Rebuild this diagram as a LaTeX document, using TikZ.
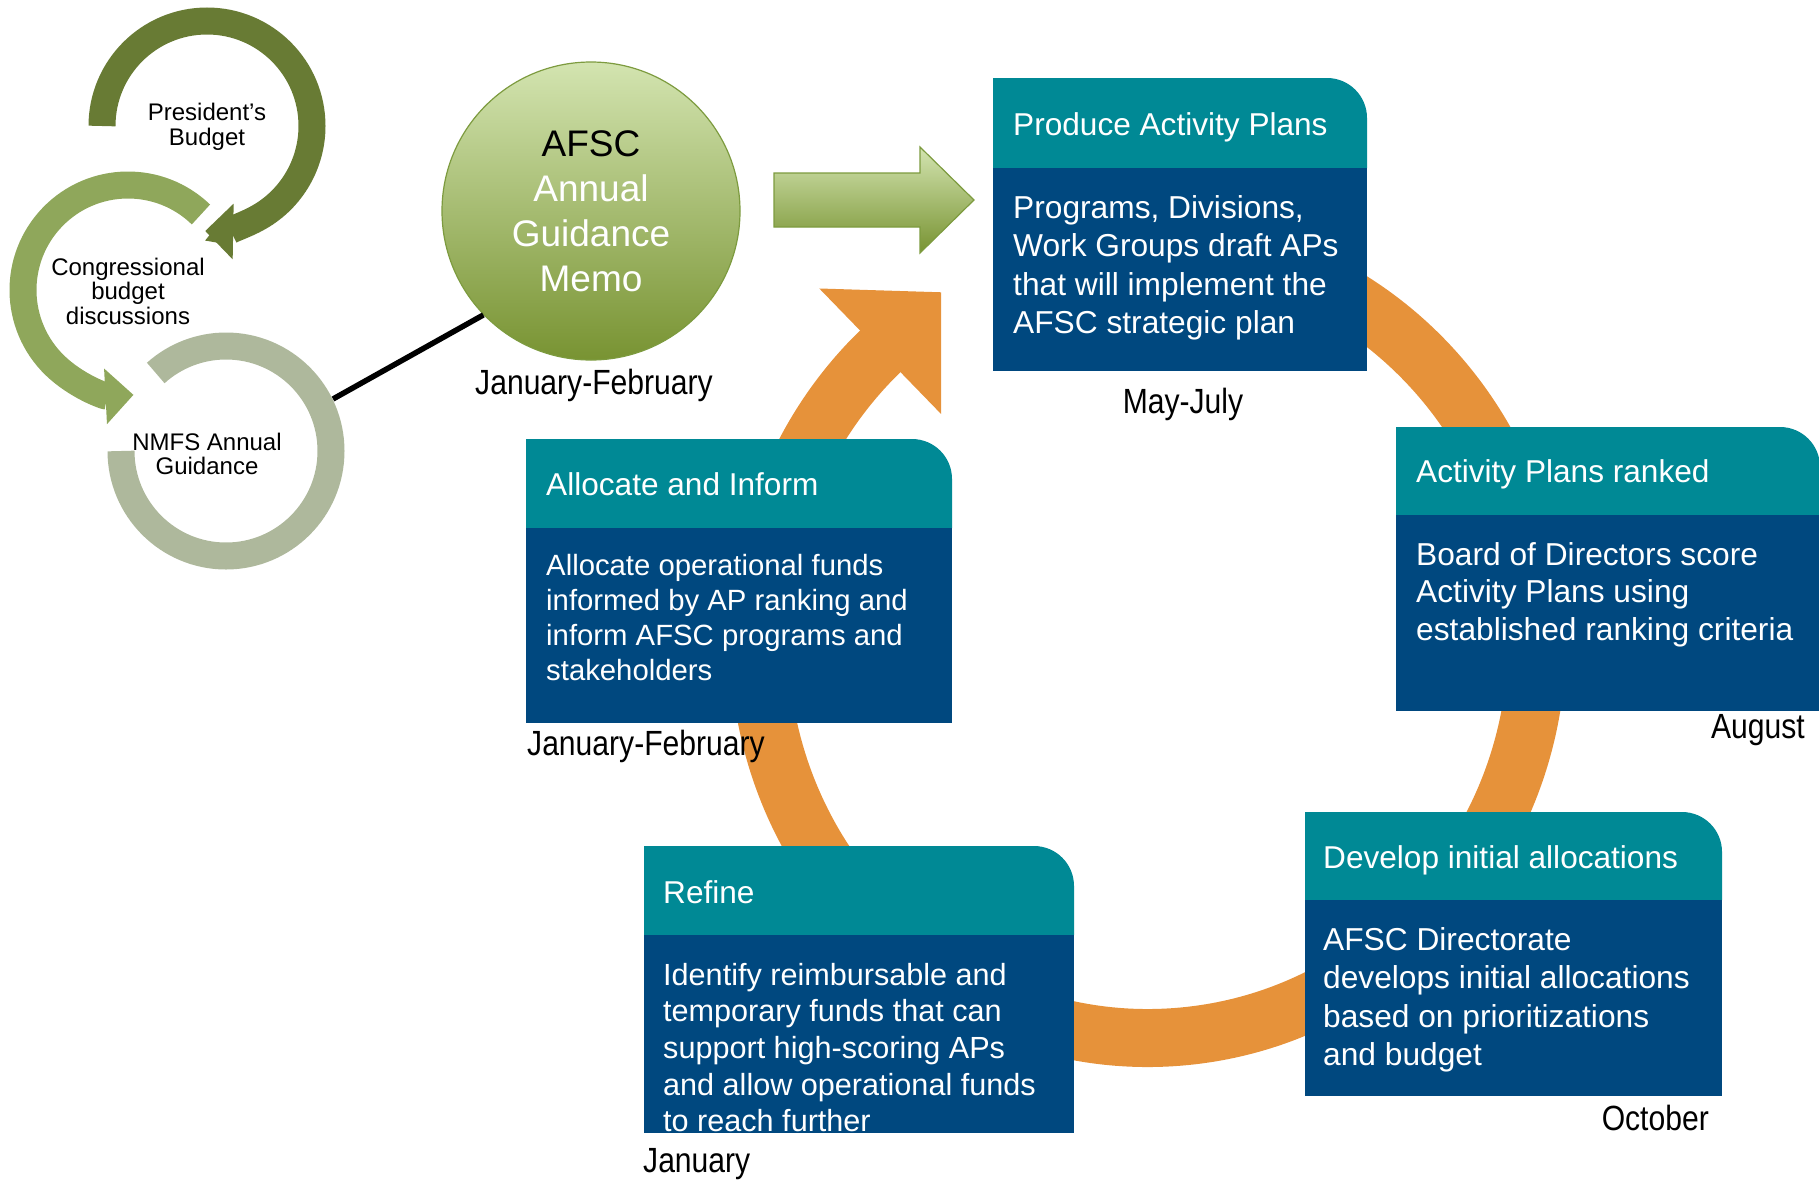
\documentclass[tikz,border=0pt]{standalone}
\usepackage{fontspec}
\setmainfont{Liberation Sans}
\newfontfamily\narrowfont[FakeStretch=0.86]{Liberation Sans}
\usetikzlibrary{arrows.meta}

\definecolor{afscteal}{HTML}{008995}
\definecolor{afscnavy}{HTML}{00487F}
\definecolor{cycleorange}{HTML}{E6923A}
\definecolor{presgreen}{HTML}{687B34}
\definecolor{congreen}{HTML}{8FA75B}
\definecolor{nmfsgreen}{HTML}{AEB89C}
\definecolor{memotop}{HTML}{D3E4B0}
\definecolor{memobot}{HTML}{789332}
\definecolor{memoedge}{HTML}{7D9B3F}

\tikzset{
  hdr/.style={fill=afscteal},
  bdy/.style={fill=afscnavy},
  hdrtxt/.style={anchor=base west, inner sep=0pt, text=white,
    font=\fontsize{31.6}{38}\selectfont},
  bdytxt/.style={anchor=north west, inner sep=0pt, text=white, align=left,
    font=\fontsize{31.7}{38.3}\selectfont},
  month/.style={inner sep=0pt, font=\narrowfont\fontsize{35}{40}\selectfont},
  ring/.style={line width=27pt},
  ringtxt/.style={align=center, inner sep=0pt, font=\fontsize{24}{24.5}\selectfont}
}

\begin{document}
\begin{tikzpicture}[x=1pt,y=-1pt]
\useasboundingbox (0,0) rectangle (1819,1181);

% orange cycle
\draw[line width=58pt, draw=cycleorange, -{Triangle[width=170pt,length=85pt]}]
  (1148,640) ++(-95:389 and 398) arc[start angle=-95, end angle=226.5, x radius=389, y radius=398]
  -- ++(61,-59.2);

% Produce Activity Plans
\fill[hdr] (993,168) -- (993,78) -- (1327,78) arc[start angle=-90, end angle=0, radius=40] -- (1367,168) -- cycle;
\fill[bdy] (993,168) rectangle (1367,371);
\node[hdrtxt] (producehead) at (1013,135) {Produce Activity Plans};
\node[bdytxt] (producebody) at (1013,195.4) {Programs, Divisions,\\Work Groups draft APs\\that will implement the\\AFSC strategic plan};

% Activity Plans ranked
\fill[hdr] (1396,515) -- (1396,427) -- (1780,427) arc[start angle=-90, end angle=0, radius=40] -- (1820,515) -- cycle;
\fill[bdy] (1396,515) rectangle (1820,711);
\node[hdrtxt] (rankedhead) at (1416,482) {Activity Plans ranked};
\node[bdytxt, font=\fontsize{31.7}{37.5}\selectfont] (rankedbody) at (1416,542) {Board of Directors score\\Activity Plans using\\established ranking criteria};

% Develop initial allocations
\fill[hdr] (1305,900) -- (1305,812) -- (1682,812) arc[start angle=-90, end angle=0, radius=40] -- (1722,900) -- cycle;
\fill[bdy] (1305,900) rectangle (1722,1096);
\node[hdrtxt] (develophead) at (1323,868) {Develop initial allocations};
\node[bdytxt] (developbody) at (1323,927.3) {AFSC Directorate\\develops initial allocations\\based on prioritizations\\and budget};

% Refine
\fill[hdr] (644,935) -- (644,846) -- (1034,846) arc[start angle=-90, end angle=0, radius=40] -- (1074,935) -- cycle;
\fill[bdy] (644,935) rectangle (1074,1133);
\node[hdrtxt] (refinehead) at (663,903) {Refine};
\node[bdytxt, font=\fontsize{30.6}{36.7}\selectfont] (refinebody) at (663,962.7) {Identify reimbursable and\\temporary funds that can\\support high-scoring APs\\and allow operational funds\\to reach further};

% Allocate and Inform
\fill[hdr] (526,528) -- (526,439) -- (912,439) arc[start angle=-90, end angle=0, radius=40] -- (952,528) -- cycle;
\fill[bdy] (526,528) rectangle (952,723);
\node[hdrtxt] (allochead) at (546,495) {Allocate and Inform};
\node[bdytxt, font=\fontsize{29.3}{35}\selectfont] (allocbody) at (546,553.7) {Allocate operational funds\\informed by AP ranking and\\inform AFSC programs and\\stakeholders};

% months
\node[month, anchor=base] (memomonth) at (594,394) {January-February};
\node[month, anchor=base] (producemonth) at (1183,413) {May-July};
\node[month, anchor=base east] (rankedmonth) at (1805,738) {August};
\node[month, anchor=base east] (developmonth) at (1709,1130) {October};
\node[month, anchor=base west] (refinemonth) at (643,1172) {January};
\node[month, anchor=base west] (allocmonth) at (527,755) {January-February};

% guidance memo and green arrow
\draw[top color=memotop, bottom color=memobot, draw=memoedge, line width=1.2pt]
  (774,173) -- (920,173) -- (920,147) -- (974,200) -- (920,253) -- (920,227) -- (774,227) -- cycle;
\node[circle, minimum size=298pt, inner sep=0pt, draw=memoedge, line width=1.2pt,
  top color=memotop, bottom color=memobot, text=white, align=center,
  font=\fontsize{37}{45}\selectfont] (memo) at (591,211)
  {\textcolor{black}{AFSC}\\Annual\\Guidance\\Memo};

\coordinate (nmfsrim) at (333,399);
\draw[line width=5.5pt] (nmfsrim) -- (memo.224);

% budget circles
\draw[ring, draw=nmfsgreen] (226,451) ++(180:105) arc[start angle=180, end angle=-132, radius=105];
\draw[ring, draw=congreen, -{Triangle[width=54pt,length=28pt]}]
  (128,290) ++(-46:105) arc[start angle=-46, end angle=-273, radius=105];
\draw[ring, draw=presgreen, -{Triangle[width=54pt,length=28pt]}]
  (207,126) ++(180:105) arc[start angle=180, end angle=451, radius=105];

\node[ringtxt] (president) at (207,127) {President’s\\Budget};
\node[ringtxt] (congress) at (128,291) {Congressional\\budget\\discussions};
\node[ringtxt] (nmfs) at (207,454) {NMFS Annual\\Guidance};
\end{tikzpicture}
\end{document}
